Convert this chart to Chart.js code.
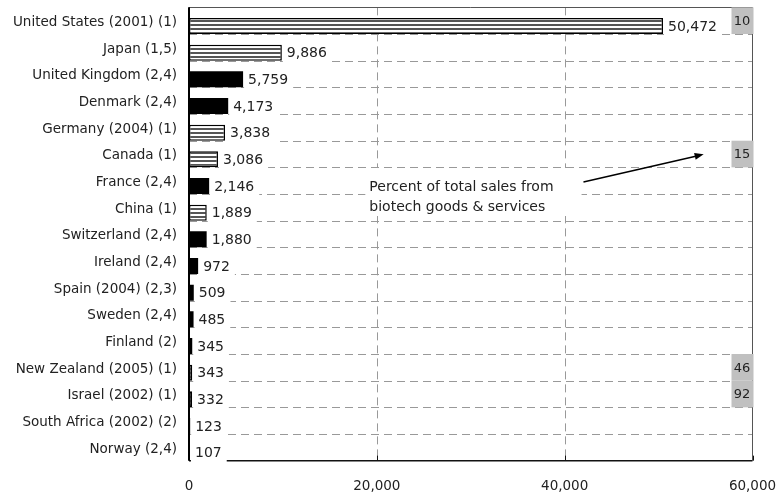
<!DOCTYPE html>
<html>
<head>
<meta charset="utf-8">
<script src="https://cdn.jsdelivr.net/npm/chart.js@4/dist/chart.umd.min.js"></script>
<style>
  html, body { margin: 0; padding: 0; background: #fff; }
  #wrap { width: 779px; height: 496px; position: relative; }
</style>
</head>
<body>
<div id="wrap"><canvas id="chart"></canvas></div>
<script>
// Biotechnology sales by country (USD millions); source notes in brackets
const countries = [
  'United States (2001) (1)', 'Japan (1,5)', 'United Kingdom (2,4)', 'Denmark (2,4)',
  'Germany (2004) (1)', 'Canada (1)', 'France (2,4)', 'China (1)', 'Switzerland (2,4)',
  'Ireland (2,4)', 'Spain (2004) (2,3)', 'Sweden (2,4)', 'Finland (2)',
  'New Zealand (2005) (1)', 'Israel (2002) (1)', 'South Africa (2002) (2)', 'Norway (2,4)'
];
const biotechSales = [50472, 9886, 5759, 4173, 3838, 3086, 2146, 1889, 1880, 972, 509, 485, 345, 343, 332, 123, 107];
// Percent of total sales that come from biotech goods & services (where known)
const biotechSharePct = [10, null, null, null, null, 15, null, null, null, null, null, null, null, 46, 92, null, null];
const xTicks = [0, 20000, 40000, 60000];
const noteLines = ['Percent of total sales from', 'biotech goods & services'];

const FONT = 'DejaVu Sans';
const TEXT = '#222';
Chart.defaults.font.family = FONT;

// Source (1) figures are drawn with a striped fill
const isSource1 = label => /\(1[,)]/.test(label);

const canvas = document.getElementById('chart');
const stripeTile = document.createElement('canvas');
stripeTile.width = 4; stripeTile.height = 4;
{
  const g = stripeTile.getContext('2d');
  g.fillStyle = '#fff'; g.fillRect(0, 0, 4, 4);
  g.fillStyle = '#555'; g.fillRect(0, 0, 4, 2);
}
const stripes = canvas.getContext('2d').createPattern(stripeTile, 'repeat');

function seg(ctx, x1, y1, x2, y2) {
  ctx.beginPath(); ctx.moveTo(x1, y1); ctx.lineTo(x2, y2); ctx.stroke();
}

function rowGeometry(chart) {
  const y = chart.scales.y;
  const meta = chart.getDatasetMeta(0);
  const half = meta.data[0].height / 2;
  const band = y.getPixelForValue(1) - y.getPixelForValue(0);
  const rowBottom = i => y.getPixelForValue(i) + half;
  return { meta, half, band, rowBottom,
           top: rowBottom(0) - band, bottom: rowBottom(countries.length - 1) };
}

const framePlugin = {
  id: 'frame',
  beforeDatasetsDraw(chart) {
    const { ctx, chartArea: a, scales: { x } } = chart;
    const g = rowGeometry(chart);
    ctx.save();
    // dashed row separators
    ctx.setLineDash([8, 5]);
    ctx.strokeStyle = '#999';
    ctx.lineWidth = 1;
    for (let i = 0; i < countries.length - 1; i++) {
      const yy = Math.round(g.rowBottom(i)) + 0.5;
      seg(ctx, a.left, yy, a.right, yy);
    }
    // dashed value gridlines
    xTicks.forEach(v => {
      if (v > x.min && v < x.max) {
        const xx = Math.round(x.getPixelForValue(v)) + 0.5;
        seg(ctx, xx, g.top, xx, g.bottom);
      }
    });
    ctx.setLineDash([]);
    // top and right frame
    ctx.strokeStyle = '#555';
    const yt = Math.round(g.top) + 0.5;
    seg(ctx, a.left, yt, a.right, yt);
    seg(ctx, a.right, yt, a.right, g.bottom);
    // value axis line and inner tick marks
    ctx.strokeStyle = '#111';
    ctx.lineWidth = 1.5;
    seg(ctx, a.left, g.bottom, a.right, g.bottom);
    ctx.lineWidth = 1;
    xTicks.forEach(v => {
      const xx = Math.round(x.getPixelForValue(v)) + 0.5;
      seg(ctx, xx, g.bottom - 5, xx, g.bottom);
    });
    ctx.restore();
  },
  afterDatasetsDraw(chart) {
    const { ctx, chartArea: a, scales: { x, y } } = chart;
    const g = rowGeometry(chart);
    ctx.save();
    // value labels on white boxes
    ctx.font = `14px "${FONT}"`;
    ctx.textBaseline = 'middle';
    ctx.textAlign = 'left';
    biotechSales.forEach((v, i) => {
      const bar = g.meta.data[i];
      const txt = v.toLocaleString('en-US');
      const w = ctx.measureText(txt).width;
      ctx.fillStyle = '#fff';
      ctx.fillRect(bar.x + 1, bar.y - 9, w + 9, 20);
      ctx.fillStyle = TEXT;
      ctx.fillText(txt, bar.x + 5, bar.y + 1);
    });
    // category axis line
    ctx.strokeStyle = '#000';
    ctx.lineWidth = 2;
    seg(ctx, a.left, g.top, a.left, g.bottom);
    // grey share boxes at the right edge
    ctx.font = `13px "${FONT}"`;
    ctx.textAlign = 'center';
    biotechSharePct.forEach((p, i) => {
      if (p == null) return;
      const yb = g.rowBottom(i);
      const boxW = 21;
      ctx.fillStyle = '#c0c0c0';
      ctx.fillRect(a.right - boxW, yb - g.band, boxW + 1, g.band);
      ctx.fillStyle = TEXT;
      ctx.fillText(String(p), a.right - boxW / 2, yb - g.band / 2 + 1);
    });
    // explanatory note with arrow pointing at the share column
    const nx = x.getPixelForValue(19200);
    const ny = y.getPixelForValue(6);
    ctx.font = `14px "${FONT}"`;
    ctx.textAlign = 'left';
    const tw = Math.max(...noteLines.map(t => ctx.measureText(t).width));
    ctx.fillStyle = '#fff';
    ctx.fillRect(nx - 4, ny - 18, tw + 32, 48);
    ctx.fillStyle = TEXT;
    noteLines.forEach((t, k) => ctx.fillText(t, nx, ny + 1 + k * 20));
    const x1 = x.getPixelForValue(42000), y1 = y.getPixelForValue(6) - 4;
    const x2 = x.getPixelForValue(54800), y2 = y.getPixelForValue(5) - 5;
    ctx.strokeStyle = '#000';
    ctx.fillStyle = '#000';
    ctx.lineWidth = 1.5;
    const ang = Math.atan2(y2 - y1, x2 - x1);
    seg(ctx, x1, y1, x2 - 7 * Math.cos(ang), y2 - 7 * Math.sin(ang));
    ctx.beginPath();
    ctx.moveTo(x2, y2);
    ctx.lineTo(x2 - 9 * Math.cos(ang) + 3.5 * Math.sin(ang), y2 - 9 * Math.sin(ang) - 3.5 * Math.cos(ang));
    ctx.lineTo(x2 - 9 * Math.cos(ang) - 3.5 * Math.sin(ang), y2 - 9 * Math.sin(ang) + 3.5 * Math.cos(ang));
    ctx.closePath();
    ctx.fill();
    ctx.restore();
  }
};

new Chart(canvas, {
  type: 'bar',
  data: {
    labels: countries,
    datasets: [{
      data: biotechSales,
      backgroundColor: countries.map(c => isSource1(c) ? stripes : '#000'),
      borderColor: '#000',
      borderWidth: countries.map(c => isSource1(c) ? 1.5 : 0),
      borderSkipped: false,
      barPercentage: 0.6,
      categoryPercentage: 1
    }]
  },
  options: {
    indexAxis: 'y',
    responsive: true,
    maintainAspectRatio: false,
    animation: false,
    layout: { padding: { top: 12.7, right: 26.5, left: 0, bottom: 0 } },
    plugins: { legend: { display: false }, tooltip: { enabled: false } },
    scales: {
      x: {
        type: 'linear', min: 0, max: 60000,
        afterBuildTicks: s => { s.ticks = xTicks.map(v => ({ value: v })); },
        grid: { display: false, drawTicks: false },
        border: { display: false },
        ticks: { color: TEXT, font: { size: 13.5 }, padding: 12, maxRotation: 0 },
        afterFit: s => { s.height = 30; s.paddingLeft = 0; s.paddingRight = 0; }
      },
      y: {
        type: 'category', offset: true,
        grid: { display: false, drawTicks: false },
        border: { display: false },
        ticks: { color: TEXT, font: { size: 13.5 }, padding: 12, labelOffset: -3.5, autoSkip: false },
        afterFit: s => { s.width = 189; s.paddingTop = 0; s.paddingBottom = 0; }
      }
    }
  },
  plugins: [framePlugin]
});
</script>
</body>
</html>
